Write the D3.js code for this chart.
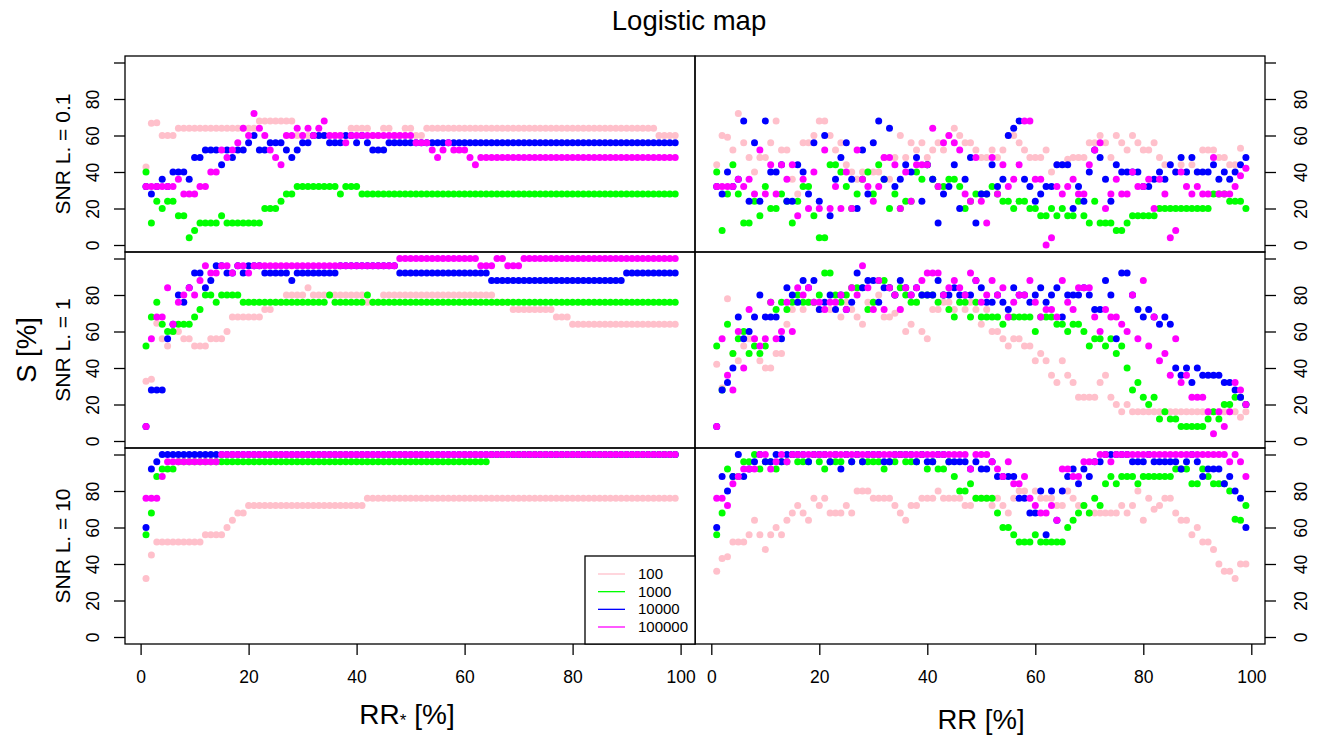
<!DOCTYPE html>
<html>
<head>
<meta charset="utf-8">
<script src="https://cdnjs.cloudflare.com/ajax/libs/d3/7.8.5/d3.min.js"></script>
<style>
  html, body { margin: 0; padding: 0; background: #fff; }
  svg { display: block; }
  text { font-family: "Liberation Sans", Arial, sans-serif; fill: #000; }
  .axis line, .axis path { stroke: #000; stroke-width: 1.3; }
</style>
</head>
<body>
<div id="chart"></div>
<script>
// data. one value per RR step (1..99)
var seriesNames = ['100', '1000', '10000', '100000'];
var seriesColors = ['#FFC0CB', '#00FF00', '#0000FF', '#FF00FF'];
var rowLabels = ['SNR L. = 0.1', 'SNR L. = 1', 'SNR L. = 10'];
var xTicks = [0, 20, 40, 60, 80, 100];
var yTicks = [0, 20, 40, 60, 80, 100];
var yLabelled = [0, 20, 40, 60, 80]; // 100 has a tick but no label

// top left
var a1Pink = [42.7,66.7,67,60,60,60,64,64,64,64, 64,64,64,64,64,64,64,64,64,64, 64,68,68,68,68,68,68,68,60,60, 60,60,60,60,60,60,60,60,64,64, 64,64,60,60,64,64,60,60,64,64, 60,60,64,64,64,64,64,64,64,64, 64,64,64,64,64,64,64,64,64,64, 64,64,64,64,64,64,64,64,64,64, 64,64,64,64,64,64,64,64,64,64, 64,64,64,64,64,60,60,60,60];
var a1Green = [40,12,24,20,24,24,16,16,4,8, 12,12,12,12,16,12,12,12,12,12, 12,12,20,20,20,24,28,28,32,32, 32,32,32,32,32,32,28,32,32,32, 28,28,28,28,28,28,28,28,28,28, 28,28,28,28,28,28,28,28,28,28, 28,28,28,28,28,28,28,28,28,28, 28,28,28,28,28,28,28,28,28,28, 28,28,28,28,28,28,28,28,28,28, 28,28,28,28,28,28,28,28,28];
var a1Blue = [32,28,32,36,32,40,40,40,36,48, 48,52,52,52,44,52,48,52,52,56, 60,52,52,56,56,56,52,48,52,56, 56,60,60,60,56,56,56,60,60,56, 60,56,52,52,52,56,56,56,56,56, 56,56,56,56,56,56,56,56,56,56, 56,56,56,56,56,56,56,56,56,56, 56,56,56,56,56,56,56,56,56,56, 56,56,56,56,56,56,56,56,56,56, 56,56,56,56,56,56,56,56,56];
var a1Magenta = [32,32,32,32,32,32,36,28,28,28, 32,32,40,40,52,48,52,56,64,60, 72,64,60,52,48,44,60,60,64,60, 64,60,64,68,60,60,60,56,60,60, 60,60,60,60,60,60,60,60,60,60, 56,56,56,52,48,52,56,52,52,52, 48,44,48,48,48,48,48,48,48,48, 48,48,48,48,48,48,48,48,48,48, 48,48,48,48,48,48,48,48,48,48, 48,48,48,48,48,48,48,48,48];

// top right
var a2Pink = [44,60,59,52,72,56,48,40,48,48, 56,68,52,52,36,28,56,56,60,68, 68,60,52,56,44,40,36,40,40,40, 40,48,36,48,60,48,56,52,56,48, 52,56,52,60,64,60,56,56,52,48, 48,52,48,52,60,60,56,52,48,48, 48,52,40,44,44,47,48,48,48,56, 56,60,56,48,60,56,52,60,56,52, 52,56,48,44,44,40,44,40,44,40, 52,52,52,48,48,44,44,53,42];
var a2Green = [40,8,28,44,28,12,12,24,16,32, 20,20,28,24,12,24,32,32,16,4, 4,44,44,40,32,20,28,36,40,28, 44,36,20,28,20,24,24,40,36,44, 36,32,32,36,36,32,20,24,28,28, 28,32,28,24,24,20,24,24,20,20, 16,16,20,16,20,16,16,24,16,12, 24,12,12,12,8,8,12,16,16,16, 16,16,20,20,20,20,20,20,20,20, 20,20,28,28,28,24,24,24,20];
var a2Blue = [32,28,40,32,36,68,24,56,24,68, 40,40,44,24,24,44,40,28,56,24, 60,16,36,48,56,36,20,52,28,56, 68,36,64,32,36,44,40,48,24,44, 36,12,28,32,44,20,36,48,12,28, 28,44,32,36,60,64,68,36,32,24, 28,32,32,44,44,44,20,32,24,40, 52,48,36,24,44,40,40,40,40,32, 32,36,40,36,44,40,48,40,48,40, 40,40,44,36,40,36,40,44,48];
var a2Magenta = [32,32,32,32,36,32,36,28,52,28, 44,28,44,36,44,16,36,20,40,20, 52,20,32,20,40,20,52,36,32,24, 32,48,48,44,20,40,24,44,44,44, 64,32,56,60,56,52,28,24,48,24, 12,48,28,44,32,36,44,68,68,36, 36,0,4,32,28,32,36,28,28,44, 52,56,20,28,36,28,28,40,32,32, 36,20,36,28,4,8,40,32,28,32, 28,28,48,28,28,28,32,38,42];

// middle left
var b1Pink = [32.7,33.8,64.5,56,52,60,60,56,56,52, 52,52,56,56,56,60,68,68,68,68, 68,68,72,72,76,76,80,80,80,80, 84,80,80,80,80,80,80,80,80,80, 80,76,76,76,80,80,80,80,80,80, 80,80,80,80,80,80,80,80,80,80, 80,80,80,80,80,76,76,76,72,72, 72,72,72,72,72,72,68,68,68,64, 64,64,64,64,64,64,64,64,64,64, 64,64,64,64,64,64,64,64,64];
var b1Green = [52,68,76,64,60,60,64,64,64,68, 72,80,80,76,80,80,80,80,76,76, 76,76,76,76,76,76,76,76,76,76, 76,76,76,76,80,76,76,76,76,76, 76,80,76,76,76,76,76,76,76,76, 76,76,76,76,76,76,76,76,76,76, 76,76,76,76,76,76,76,76,76,76, 76,76,76,76,76,76,76,76,76,76, 76,76,76,76,76,76,76,76,76,76, 76,76,76,76,76,76,76,76,76];
var b1Blue = [8,28,28,28,56,64,80,76,84,92, 92,84,88,96,96,92,92,96,92,96, 96,96,92,92,92,92,92,88,92,92, 92,92,92,92,92,92,96,96,96,96, 96,96,96,96,96,96,96,92,92,92, 92,92,92,92,92,92,92,92,92,92, 92,92,92,92,88,88,88,88,88,88, 88,88,88,88,88,88,88,88,88,88, 88,88,88,88,88,88,88,88,88,92, 92,92,92,92,92,92,92,92,92];
var b1Magenta = [8,56,68,68,84,64,76,80,84,80, 88,96,92,92,96,96,92,96,96,92, 96,96,96,96,96,96,96,96,96,96, 96,96,96,96,96,96,96,96,96,96, 96,96,96,96,96,96,96,100,100,100, 100,100,100,100,100,100,100,100,100,100, 100,100,96,96,96,100,100,96,96,96, 100,100,100,100,100,100,100,100,100,100, 100,100,100,100,100,100,100,100,100,100, 100,100,100,100,100,100,100,100,100];

// middle right
var b2Pink = [42,29,78,48,44,52,56,56,44,40, 40,48,48,64,72,76,72,76,76,72, 72,72,76,68,76,72,68,64,76,76, 80,68,68,70,72,60,64,76,60,56, 72,72,76,76,72,76,72,76,72,64, 72,60,60,56,52,56,56,52,52,44, 48,44,36,32,44,36,32,24,24,24, 24,32,36,24,20,16,20,16,16,16, 16,16,16,16,16,16,16,16,16,16, 16,16,16,16,16,16,16,13,16];
var b2Green = [52,28,64,48,56,60,48,52,48,52, 76,72,76,72,76,80,76,76,76,80, 92,92,80,76,80,84,84,84,72,76, 88,88,84,80,84,80,76,76,80,80, 80,76,80,72,68,76,76,68,76,68, 68,68,68,64,68,68,68,68,68,60, 68,68,68,64,64,60,64,64,60,52, 56,56,52,56,48,52,40,28,32,24, 20,24,12,16,12,12,8,8,8,8, 8,12,16,12,20,20,24,24,20];
var b2Blue = [8,28,32,40,68,56,60,68,80,68, 68,68,56,84,80,76,88,84,88,72, 76,80,72,80,72,76,92,84,88,88, 76,84,84,80,88,84,80,84,80,80, 80,88,80,80,84,80,80,80,88,84, 76,76,80,76,72,84,80,80,76,80, 84,76,80,84,68,80,80,80,84,80, 72,72,88,80,56,92,92,80,72,68, 72,68,64,68,64,40,36,40,32,40, 36,36,36,36,32,32,28,24,20];
var b2Magenta = [8,56,36,28,60,40,72,56,52,56, 76,56,60,76,60,84,80,84,76,76, 72,76,76,80,72,84,80,96,84,72, 88,72,84,80,72,84,80,84,88,92, 92,92,80,84,88,84,80,92,88,76, 80,88,80,84,68,76,80,80,88,76, 68,72,72,68,88,76,72,84,84,84, 68,60,72,68,68,64,60,80,56,88, 52,68,44,48,36,56,32,36,24,24, 24,16,4,16,8,16,32,28,20];

// bottom left
var c1Pink = [32,45,52,52,52,52,52,52,52,52, 52,56,56,56,56,60,64,68,68,72, 72,72,72,72,72,72,72,72,72,72, 72,72,72,72,72,72,72,72,72,72, 72,76,76,76,76,76,76,76,76,76, 76,76,76,76,76,76,76,76,76,76, 76,76,76,76,76,76,76,76,76,76, 76,76,76,76,76,76,76,76,76,76, 76,76,76,76,76,76,76,76,76,76, 76,76,76,76,76,76,76,76,76];
var c1Green = [56,68,88,92,92,92,96,96,96,96, 96,96,96,96,96,96,96,96,96,96, 96,96,96,96,96,96,96,96,96,96, 96,96,96,96,96,96,96,96,96,96, 96,96,96,96,96,96,96,96,96,96, 96,96,96,96,96,96,96,96,96,96, 96,96,96,96,100,100,100,100,100,100, 100,100,100,100,100,100,100,100,100,100, 100,100,100,100,100,100,100,100,100,100, 100,100,100,100,100,100,100,100,100];
var c1Blue = [60,92,96,100,100,100,100,100,100,100, 100,100,100,100,100,100,100,100,100,100, 100,100,100,100,100,100,100,100,100,100, 100,100,100,100,100,100,100,100,100,100, 100,100,100,100,100,100,100,100,100,100, 100,100,100,100,100,100,100,100,100,100, 100,100,100,100,100,100,100,100,100,100, 100,100,100,100,100,100,100,100,100,100, 100,100,100,100,100,100,100,100,100,100, 100,100,100,100,100,100,100,100,100];
var c1Magenta = [76,76,76,88,96,96,96,96,96,96, 96,96,96,96,100,100,100,100,100,100, 100,100,100,100,100,100,100,100,100,100, 100,100,100,100,100,100,100,100,100,100, 100,100,100,100,100,100,100,100,100,100, 100,100,100,100,100,100,100,100,100,100, 100,100,100,100,100,100,100,100,100,100, 100,100,100,100,100,100,100,100,100,100, 100,100,100,100,100,100,100,100,100,100, 100,100,100,100,100,100,100,100,100];

// bottom right
var c2Pink = [36,43,44,52,52,52,56,64,56,48, 56,60,56,64,68,72,68,64,76,72, 76,68,68,68,72,68,80,80,80,76, 76,76,76,72,68,64,72,72,76,76, 76,80,76,76,76,76,72,72,76,76, 76,72,76,72,68,76,80,80,76,80, 76,76,76,72,72,80,76,72,72,68, 68,68,68,68,68,72,68,72,80,64, 76,70,72,76,76,68,64,64,56,60, 52,52,48,40,36,36,32,40,40];
var c2Green = [56,68,92,88,88,96,96,100,92,96, 96,92,96,96,100,96,96,96,100,96, 92,96,96,96,100,96,100,96,96,96, 96,92,96,96,100,96,96,96,100,92, 96,92,92,96,88,80,80,84,76,76, 76,76,68,60,60,56,52,52,52,56, 52,52,52,52,52,60,64,68,72,68, 76,72,84,88,84,88,88,88,84,88, 88,88,88,88,88,92,92,92,84,84, 92,88,84,84,84,80,64.5,64,72];
var c2Blue = [60,88,80,88,100,88,92,96,100,96, 96,100,96,100,100,100,100,96,100,100, 100,96,100,92,100,96,100,96,100,100, 100,96,96,100,100,100,100,96,100,96, 96,100,100,96,96,96,96,92,96,92, 92,96,88,88,88,88,76,76,68,68, 80,56,80,64,80,88,92,84,92,88, 96,96,100,100,100,100,100,96,96,96, 100,96,96,96,96,96,92,96,100,96, 88,92,92,92,84,88,80,76,60];
var c2Magenta = [76,76,72,84,88,92,92,92,100,100, 92,96,100,96,100,100,100,100,100,100, 100,100,100,100,100,100,100,100,100,100, 100,100,100,100,100,100,100,100,100,100, 100,100,100,100,100,100,100,92,100,100, 100,96,92,88,96,84,84,88,76,72, 68,68,72,64,92,92,88,88,96,96, 96,100,100,96,100,100,100,100,100,100, 100,100,100,100,100,100,100,100,100,100, 100,100,100,100,100,96,100,96,88];

// panels: row, col -> the four series in draw order
var panelData = [
  [[a1Pink, a1Green, a1Blue, a1Magenta], [a2Pink, a2Green, a2Blue, a2Magenta]],
  [[b1Pink, b1Green, b1Blue, b1Magenta], [b2Pink, b2Green, b2Blue, b2Magenta]],
  [[c1Pink, c1Green, c1Blue, c1Magenta], [c2Pink, c2Green, c2Blue, c2Magenta]]
];

var w = 1320;
var h = 735;

var panelLeft = [125, 695];
var panelWidth = 570;
var panelTop = [56, 252, 448];
var panelHeight = 196;
var tickLen = 11;

// x(0) and x(100) in each column, zero line of each row
var xRanges = [[140.6, 680.6], [711.3, 1251.3]];
var yZero = [245, 441, 637];
var yHeight = 182.5;

var svg = d3.select('#chart')
  .append('svg')
    .attr('width', w)
    .attr('height', h);

panelData.forEach(function(row, r) {
  var yScale = d3.scaleLinear()
    .domain([0, 100])
    .range([yZero[r], yZero[r] - yHeight]);

  row.forEach(function(series, c) {
    var xScale = d3.scaleLinear()
      .domain([0, 100])
      .range(xRanges[c]);

    var panel = svg.append('g').attr('class', 'panel');

    // points, one group per series
    series.forEach(function(values, s) {
      panel.append('g')
        .selectAll('circle')
        .data(values)
        .enter()
        .append('circle')
          .attr('cx', function(d, i) { return xScale(i + 1); })
          .attr('cy', function(d) { return yScale(d); })
          .attr('r', 3.5)
          .attr('fill', seriesColors[s]);
    });

    // y axis: left column on the left, right column on the right
    var yAxis = (c == 0 ? d3.axisLeft(yScale) : d3.axisRight(yScale))
      .tickValues(yTicks)
      .tickSize(tickLen)
      .tickSizeOuter(0)
      .tickFormat(function(d) { return yLabelled.indexOf(d) < 0 ? '' : d; });

    var yG = panel.append('g')
      .attr('class', 'axis')
      .attr('transform', 'translate(' + (c == 0 ? panelLeft[0] : panelLeft[1] + panelWidth) + ', 0)')
      .call(yAxis);

    yG.select('.domain').remove();
    yG.selectAll('text')
      .attr('x', 0)
      .attr('y', 0)
      .attr('dy', 0)
      .attr('text-anchor', 'middle')
      .attr('font-size', 17.5)
      .attr('transform', 'translate(' + (c == 0 ? -26 : 42) + ', 0) rotate(-90)');

    // x axis only under the bottom row
    if (r == 2) {
      var xAxis = d3.axisBottom(xScale)
        .tickValues(xTicks)
        .tickSize(tickLen)
        .tickSizeOuter(0);

      var xG = panel.append('g')
        .attr('class', 'axis')
        .attr('transform', 'translate(0, ' + (panelTop[2] + panelHeight) + ')')
        .call(xAxis);

      xG.select('.domain').remove();
      xG.selectAll('text')
        .attr('y', 39)
        .attr('dy', 0)
        .attr('font-size', 17.5);
    }

    // frame
    panel.append('rect')
      .attr('x', panelLeft[c])
      .attr('y', panelTop[r])
      .attr('width', panelWidth)
      .attr('height', panelHeight)
      .attr('fill', 'none')
      .attr('stroke', '#000')
      .attr('stroke-width', 1.3);
  });

  // row label
  svg.append('text')
    .text(rowLabels[r])
    .attr('text-anchor', 'middle')
    .attr('font-size', 21)
    .attr('transform', 'translate(70, ' + (panelTop[r] + panelHeight / 2) + ') rotate(-90)');
});

// title and outer labels
svg.append('text')
  .text('Logistic map')
  .attr('x', 689)
  .attr('y', 30)
  .attr('text-anchor', 'middle')
  .attr('font-size', 27.5);

svg.append('text')
  .text('S [%]')
  .attr('text-anchor', 'middle')
  .attr('font-size', 27.5)
  .attr('transform', 'translate(36, 350) rotate(-90)');

var rrStar = svg.append('text')
  .attr('x', 407)
  .attr('y', 724)
  .attr('text-anchor', 'middle')
  .attr('font-size', 28);
rrStar.append('tspan').text('RR');
rrStar.append('tspan').text('*').attr('font-size', 17).attr('dy', 2);
rrStar.append('tspan').text(' [%]').attr('dy', -2);

svg.append('text')
  .text('RR [%]')
  .attr('x', 981)
  .attr('y', 729)
  .attr('text-anchor', 'middle')
  .attr('font-size', 27.5);

// legend, bottom right of the lower left panel
var legend = svg.append('g').attr('class', 'legend');

legend.append('rect')
  .attr('x', 585)
  .attr('y', 556)
  .attr('width', 110)
  .attr('height', 88)
  .attr('fill', '#fff')
  .attr('stroke', '#000')
  .attr('stroke-width', 1.3);

var legendRow = d3.scalePoint()
  .domain(seriesNames)
  .range([574, 627]);

seriesNames.forEach(function(name, i) {
  legend.append('line')
    .attr('x1', 598)
    .attr('x2', 625)
    .attr('y1', legendRow(name))
    .attr('y2', legendRow(name))
    .attr('stroke', seriesColors[i])
    .attr('stroke-width', 1.3);

  legend.append('text')
    .text(name)
    .attr('x', 638)
    .attr('y', legendRow(name) + 5)
    .attr('font-size', 15);
});
</script>
</body>
</html>
